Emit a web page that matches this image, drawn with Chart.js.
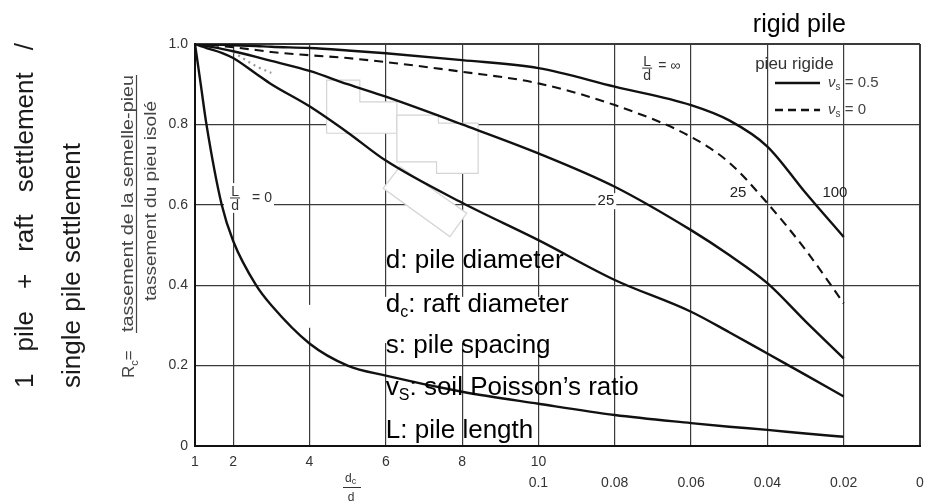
<!DOCTYPE html>
<html>
<head>
<meta charset="utf-8">
<script src="https://cdn.jsdelivr.net/npm/chart.js@4.4.0/dist/chart.umd.min.js"></script>
<style>
  html, body { margin: 0; padding: 0; background: #fff; }
</style>
</head>
<body>
<canvas id="myChart" width="925" height="503"></canvas>
<script>
const FONT = "'Liberation Sans', Arial, Helvetica, sans-serif";

// position on the combined x axis: 1..10 is dc/d, 10..20 is d/dc going 0.1 -> 0
const axisPos   = [1, 1.15, 1.3, 1.7, 2, 2.6, 3, 4, 5, 6, 8, 10, 12, 14, 15, 16, 17, 18];
const rcLd0     = [1.0, 0.90, 0.80, 0.60, 0.51, 0.40, 0.35, 0.255, 0.20, 0.175, 0.135, 0.105, 0.077, 0.057, 0.048, 0.040, 0.031, 0.023];
const rcLdMid   = [1.0, 0.995, 0.99, 0.978, 0.965, 0.926, 0.90, 0.845, 0.78, 0.71, 0.605, 0.512, 0.413, 0.334, 0.283, 0.23, 0.177, 0.123];
const rcLd25    = [1.0, 0.998, 0.995, 0.988, 0.982, 0.968, 0.958, 0.933, 0.90, 0.869, 0.80, 0.728, 0.645, 0.537, 0.475, 0.405, 0.31, 0.218];
const rcLd25Nu0 = [1.0, 1.0, 0.999, 0.995, 0.992, 0.985, 0.98, 0.972, 0.965, 0.955, 0.931, 0.902, 0.848, 0.769, 0.705, 0.604, 0.488, 0.355];
const rcLd100   = [1.0, 1.0, 0.999, 0.998, 0.997, 0.995, 0.993, 0.99, 0.984, 0.977, 0.96, 0.94, 0.894, 0.848, 0.81, 0.745, 0.63, 0.52];
// faint half-erased dashed trace near the start
const rcTrace   = [null, null, null, null, 0.98, 0.945, 0.928, null, null, null, null, null, null, null, null, null, null, null];

const xTickPos    = [1, 2, 4, 6, 8, 10, 12, 14, 16, 18, 20];
const xTickTop    = ['1', '2', '4', '6', '8', '10', '', '', '', '', ''];
const xTickBottom = ['', '', '', '', '', '0.1', '0.08', '0.06', '0.04', '0.02', '0'];
const yTicks      = [0, 0.2, 0.4, 0.6, 0.8, 1.0];
const yTickLabels = ['0', '0.2', '0.4', '0.6', '0.8', '1.0'];

function pts(values) {
  return axisPos.map((u, i) => ({ x: u, y: values[i] }));
}

function line(values, dash, color, width) {
  return {
    data: pts(values),
    borderColor: color || '#111',
    borderWidth: width || 2.4,
    borderDash: dash || [],
    fill: false,
    pointRadius: 0,
    cubicInterpolationMode: 'monotone',
    spanGaps: false
  };
}

// white erased areas of the scan (they hide grid lines, not the curves)
const patchPlugin = {
  id: 'patches',
  beforeDatasetsDraw(chart) {
    const { ctx, scales: { x, y } } = chart;
    const P = p => [x.getPixelForValue(p[0]), y.getPixelForValue(p[1])];
    const polys = [
      [[4.45, 0.910], [5.32, 0.910], [5.32, 0.856], [6.29, 0.856], [6.29, 0.778], [4.45, 0.778]],
      [[6.29, 0.823], [7.38, 0.823], [7.38, 0.803], [8.42, 0.803], [8.42, 0.678], [7.33, 0.678], [7.33, 0.707], [6.29, 0.707]],
      [[5.93, 0.641], [6.37, 0.695], [8.12, 0.579], [7.68, 0.521]]
    ];
    ctx.save();
    polys.forEach(poly => {
      ctx.beginPath();
      poly.forEach((p, i) => { const q = P(p); i ? ctx.lineTo(q[0], q[1]) : ctx.moveTo(q[0], q[1]); });
      ctx.closePath();
      ctx.fillStyle = '#fff';
      ctx.fill();
      ctx.strokeStyle = '#d4d4d4';
      ctx.lineWidth = 1.2;
      ctx.stroke();
    });
    const rects = [
      [[5.95, 0.371], [10.57, 0.256]],
      [[3.88, 0.351], [4.14, 0.294]],
      [[1.76, 0.654], [3.07, 0.580]]
    ];
    ctx.fillStyle = '#fff';
    rects.forEach(r => {
      const a = P(r[0]), b = P(r[1]);
      ctx.fillRect(a[0], a[1], b[0] - a[0], b[1] - a[1]);
    });
    ctx.restore();
  }
};

function runs(ctx, parts, x, y) {
  let cx = x;
  parts.forEach(([t, size, dy, style]) => {
    ctx.font = (style || '') + ' ' + size + 'px ' + FONT;
    ctx.fillText(t, cx, y + (dy || 0));
    cx += ctx.measureText(t).width;
  });
}

function fraction(ctx, top, bottom, cx, cy, size) {
  ctx.font = size + 'px ' + FONT;
  ctx.textAlign = 'center';
  ctx.textBaseline = 'alphabetic';
  ctx.fillText(top, cx, cy - 2);
  ctx.textBaseline = 'top';
  ctx.fillText(bottom, cx, cy + 1);
  ctx.beginPath();
  ctx.moveTo(cx - 5, cy);
  ctx.lineTo(cx + 5, cy);
  ctx.lineWidth = 1;
  ctx.stroke();
  ctx.textAlign = 'left';
  ctx.textBaseline = 'alphabetic';
}

function rotatedFit(ctx, text, bx, yStart, len, size) {
  ctx.save();
  ctx.translate(bx, yStart);
  ctx.rotate(-Math.PI / 2);
  ctx.font = size + 'px ' + FONT;
  const w = ctx.measureText(text).width;
  ctx.scale(len / w, 1);
  ctx.fillText(text, 0, 0);
  ctx.restore();
}

function justified(ctx, words, bx, y0, y1, size) {
  ctx.save();
  ctx.translate(bx, y0);
  ctx.rotate(-Math.PI / 2);
  ctx.font = size + 'px ' + FONT;
  const widths = words.map(w => ctx.measureText(w).width);
  const total = widths.reduce((a, b) => a + b, 0);
  const gap = ((y0 - y1) - total) / (words.length - 1);
  let cx = 0;
  words.forEach((w, i) => { ctx.fillText(w, cx, 0); cx += widths[i] + gap; });
  ctx.restore();
}

const textPlugin = {
  id: 'texts',
  afterDraw(chart) {
    const { ctx, scales: { x, y } } = chart;
    const X = u => x.getPixelForValue(u);
    const Y = v => y.getPixelForValue(v);
    ctx.save();
    ctx.textAlign = 'left';
    ctx.textBaseline = 'alphabetic';

    // curve labels
    ctx.fillStyle = '#333';
    ctx.strokeStyle = '#333';
    fraction(ctx, 'L', 'd', X(12.85), Y(0.94), 14);
    ctx.font = '14px ' + FONT;
    ctx.textBaseline = 'middle';
    ctx.fillText('= \u221E', X(12.85) + 11, Y(0.94) - 2);
    fraction(ctx, 'L', 'd', X(2.05), Y(0.617), 14);
    ctx.font = '14px ' + FONT;
    ctx.textBaseline = 'middle';
    ctx.fillText('= 0', X(2.05) + 17, Y(0.617));

    ctx.fillStyle = '#222';
    ctx.font = '15px ' + FONT;
    ctx.textAlign = 'center';
    const w25 = ctx.measureText('25').width;
    ctx.fillStyle = '#fff';
    ctx.fillRect(X(11.77) - w25 / 2 - 2, Y(0.609) - 8, w25 + 4, 16);
    ctx.fillStyle = '#222';
    ctx.fillText('25', X(11.77), Y(0.609));
    ctx.fillText('25', X(15.23), Y(0.629));
    ctx.fillText('100', X(17.77), Y(0.629));

    // legend
    ctx.textAlign = 'left';
    ctx.fillStyle = '#333';
    ctx.font = '17px ' + FONT;
    ctx.fillText('pieu rigide', X(15.68), Y(0.95));
    ctx.strokeStyle = '#111';
    ctx.lineWidth = 2.4;
    ctx.beginPath();
    ctx.moveTo(X(16.2), Y(0.903));
    ctx.lineTo(X(17.38), Y(0.903));
    ctx.stroke();
    ctx.setLineDash([8, 5]);
    ctx.beginPath();
    ctx.moveTo(X(16.2), Y(0.836));
    ctx.lineTo(X(17.38), Y(0.836));
    ctx.stroke();
    ctx.setLineDash([]);
    ctx.fillStyle = '#444';
    runs(ctx, [['\u03BD', 15, 0, 'italic'], ['s', 10, 4], [' = 0.5', 15, 0]], X(17.59), Y(0.903));
    runs(ctx, [['\u03BD', 15, 0, 'italic'], ['s', 10, 4], [' = 0', 15, 0]], X(17.59), Y(0.836));

    // english overlay
    ctx.textBaseline = 'middle';
    ctx.fillStyle = '#000';
    ctx.font = '25px ' + FONT;
    ctx.fillText('rigid pile', X(15.62), Y(1.047));

    ctx.textBaseline = 'alphabetic';
    const bx = X(6.0);
    runs(ctx, [['d: pile diameter', 26]], bx, Y(0.443));
    runs(ctx, [['d', 26], ['c', 16, 5], [': raft diameter', 26]], bx, Y(0.333));
    runs(ctx, [['s: pile spacing', 26]], bx, Y(0.231));
    runs(ctx, [['v', 26], ['S', 16, 5], [': soil Poisson\u2019s ratio', 26]], bx, Y(0.127));
    runs(ctx, [['L: pile length', 26]], bx, Y(0.020));

    // dc/d under the axis
    ctx.fillStyle = '#333';
    ctx.strokeStyle = '#333';
    runs(ctx, [['d', 12], ['c', 9, 2]], 345, 482);
    ctx.lineWidth = 1;
    ctx.beginPath();
    ctx.moveTo(343, 487.5);
    ctx.lineTo(361, 487.5);
    ctx.stroke();
    ctx.textAlign = 'center';
    ctx.textBaseline = 'top';
    ctx.font = '12px ' + FONT;
    ctx.fillText('d', 351, 492);

    // left titles
    ctx.textAlign = 'left';
    ctx.textBaseline = 'alphabetic';
    ctx.fillStyle = '#1a1a1a';
    justified(ctx, ['1', 'pile', '+', 'raft', 'settlement', '/'], 33, 388, 43, 26);
    justified(ctx, ['single', 'pile', 'settlement'], 80, 388, 143, 26);

    // French Rc label
    ctx.fillStyle = '#444';
    ctx.strokeStyle = '#444';
    ctx.save();
    ctx.translate(134, 378);
    ctx.rotate(-Math.PI / 2);
    runs(ctx, [['R', 17], ['c', 11, 4], ['=', 17]], 0, 0);
    ctx.restore();
    rotatedFit(ctx, 'tassement de la semelle-pieu', 133, 332, 257, 17);
    ctx.lineWidth = 1.2;
    ctx.beginPath();
    ctx.moveTo(136.5, 333);
    ctx.lineTo(136.5, 75);
    ctx.stroke();
    rotatedFit(ctx, 'tassement du pieu isol\u00E9', 156, 301, 200, 17);

    ctx.restore();
  }
};

const gridWidth = c => (c.tick && (c.tick.value === 20 || c.tick.value === 1) ? 2 : 1.2);

new Chart(document.getElementById('myChart'), {
  type: 'line',
  data: {
    datasets: [
      line(rcLd0),
      line(rcLdMid),
      line(rcLd25),
      line(rcLd25Nu0, [9, 6], '#111', 2.1),
      line(rcLd100),
      line(rcTrace, [2, 4], '#9a9a9a', 2.2)
    ]
  },
  options: {
    responsive: false,
    animation: false,
    devicePixelRatio: 1,
    layout: { padding: { left: 0, top: 44, right: 5, bottom: 0 } },
    plugins: {
      legend: { display: false },
      tooltip: { enabled: false }
    },
    scales: {
      x: {
        type: 'linear',
        min: 1,
        max: 20,
        afterBuildTicks: s => { s.ticks = xTickPos.map(v => ({ value: v })); },
        afterFit: s => { s.height = 57; s.paddingLeft = 0; s.paddingRight = 0; },
        grid: { color: '#3a3a3a', lineWidth: gridWidth, drawTicks: false },
        border: { color: '#111', width: 2 },
        ticks: {
          autoSkip: false,
          maxRotation: 0,
          padding: 5.5,
          color: '#333',
          font: { family: FONT, size: 14, lineHeight: 1.5 },
          callback: v => {
            const i = xTickPos.indexOf(v);
            return [xTickTop[i], xTickBottom[i]];
          }
        }
      },
      y: {
        min: 0,
        max: 1,
        afterBuildTicks: s => { s.ticks = yTicks.map(v => ({ value: v })); },
        afterFit: s => { s.width = 195; },
        grid: { color: '#3a3a3a', lineWidth: gridWidth, drawTicks: false },
        border: { color: '#111', width: 2 },
        ticks: {
          padding: 7,
          color: '#333',
          font: { family: FONT, size: 14 },
          callback: v => yTickLabels[yTicks.indexOf(v)]
        }
      }
    }
  },
  plugins: [patchPlugin, textPlugin]
});
</script>
</body>
</html>
